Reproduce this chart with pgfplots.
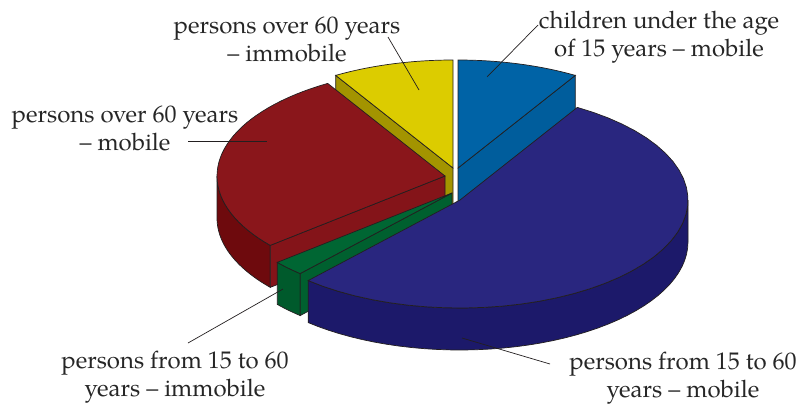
\documentclass[border=0pt]{standalone}
\usepackage{fontspec}
\setmainfont{TeX Gyre Pagella}
\usepackage{pgfplots}
\pgfplotsset{compat=1.18}
\definecolor{blueT}{HTML}{0063A6}
\definecolor{blueR}{HTML}{005D9C}
\definecolor{yellowT}{HTML}{DCCC00}
\definecolor{yellowR}{HTML}{A39400}
\definecolor{redT}{HTML}{8A161B}
\definecolor{redR}{HTML}{841419}
\definecolor{redW}{HTML}{6E0A0D}
\definecolor{greenT}{HTML}{006633}
\definecolor{greenR}{HTML}{00602F}
\definecolor{greenW}{HTML}{005A2C}
\definecolor{navyT}{HTML}{29267F}
\definecolor{navyW}{HTML}{1C196A}
\definecolor{edge}{HTML}{231F20}
% shares in percent (counter-clockwise from 12 o'clock)
\def\pYellow{8.6}  % persons over 60 years - immobile
\def\pRed{27.5}    % persons over 60 years - mobile
\def\pGreen{2.3}   % persons from 15 to 60 years - immobile
\def\pNavy{53.0}   % persons from 15 to 60 years - mobile
\def\pBlue{8.6}    % children under the age of 15 years - mobile
\pgfmathsetmacro\aY{90+3.6*\pYellow}
\pgfmathsetmacro\aR{\aY+3.6*\pRed}
\pgfmathsetmacro\aG{\aR+3.6*\pGreen}
\pgfmathsetmacro\aN{\aG+3.6*\pNavy}
\def\ra{228}
\def\rb{108}
\def\hh{42}
\newcommand{\topface}[5]{%
\addplot[fill=#1, draw=edge, line width=0.7pt, samples at={-1,0,1,...,40}, variable=\t]
 ({#2 + (\t>-0.5)*\ra*cos(#4+(#5-#4)*\t/40)}, {#3 - (\t>-0.5)*\rb*sin(#4+(#5-#4)*\t/40)}) -- cycle;}
\newcommand{\outerwall}[5]{%
\addplot[fill=#1, draw=edge, line width=0.7pt, samples at={0,1,...,40,40.0001,41,42,...,80}, variable=\t]
 ({#2 + \ra*cos(#4+(#5-#4)*min(\t,80-\t)/40)}, {#3 - \rb*sin(#4+(#5-#4)*min(\t,80-\t)/40) + \hh*(\t>40)}) -- cycle;}
\newcommand{\radface}[4]{%
\addplot[fill=#1, draw=edge, line width=0.7pt, samples at={0,1,2,3}, variable=\t]
 ({#2 + (\t>0.5)*(\t<2.5)*\ra*cos(#4)}, {#3 - (\t>0.5)*(\t<2.5)*\rb*sin(#4) + \hh*(\t>1.5)}) -- cycle;}
\tikzset{lbl/.style={font=\fontsize{24}{28}\selectfont, align=center, inner sep=0pt, text=black!85}}
\begin{document}
\begin{tikzpicture}
\begin{axis}[
  width=798pt, height=405pt, scale only axis,
  xmin=0, xmax=798, ymin=0, ymax=405, y dir=reverse,
  hide axis, clip=false, no markers,
]
\addplot[draw=none, forget plot] coordinates {(0,0) (798,405)};
% blue: children under 15 - mobile
\radface{blueR}{458}{168}{\aN}
\topface{blueT}{458}{168}{\aN}{450}
% yellow: over 60 - immobile
\radface{yellowR}{453}{168}{\aY}
\topface{yellowT}{453}{168}{90}{\aY}
% red: over 60 - mobile
\outerwall{redW}{445}{176}{180}{\aR}
\radface{redR}{445}{176}{\aR}
\topface{redT}{445}{176}{\aY}{\aR}
% green: 15 to 60 - immobile
\outerwall{greenW}{452}{193}{\aR}{\aG}
\radface{greenR}{452}{193}{\aG}
\topface{greenT}{452}{193}{\aR}{\aG}
% navy: 15 to 60 - mobile
\outerwall{navyW}{460}{200}{\aG}{360}
\topface{navyT}{460}{200}{\aG}{\aN}
% leader lines
\draw[edge, line width=0.7pt] (axis cs:487,77) -- (axis cs:538,25);
\draw[edge, line width=0.7pt] (axis cs:419,90) -- (axis cs:388,37);
\draw[edge, line width=0.7pt] (axis cs:188,141) -- (axis cs:267,141);
\draw[edge, line width=0.7pt] (axis cs:188,343) -- (axis cs:283,289);
\draw[edge, line width=0.7pt] (axis cs:462,338) -- (axis cs:550,364);
% labels
\node[lbl] at (axis cs:659,37) {children under the age\\of 15 years – mobile};
\node[lbl] at (axis cs:287,39) {persons over 60 years\\– immobile};
\node[lbl] at (axis cs:125,128) {persons over 60 years\\– mobile};
\node[lbl] at (axis cs:175,377) {persons from 15 to 60\\years – immobile};
\node[lbl] at (axis cs:683,378) {persons from 15 to 60\\years – mobile};
\end{axis}
\end{tikzpicture}
\end{document}
